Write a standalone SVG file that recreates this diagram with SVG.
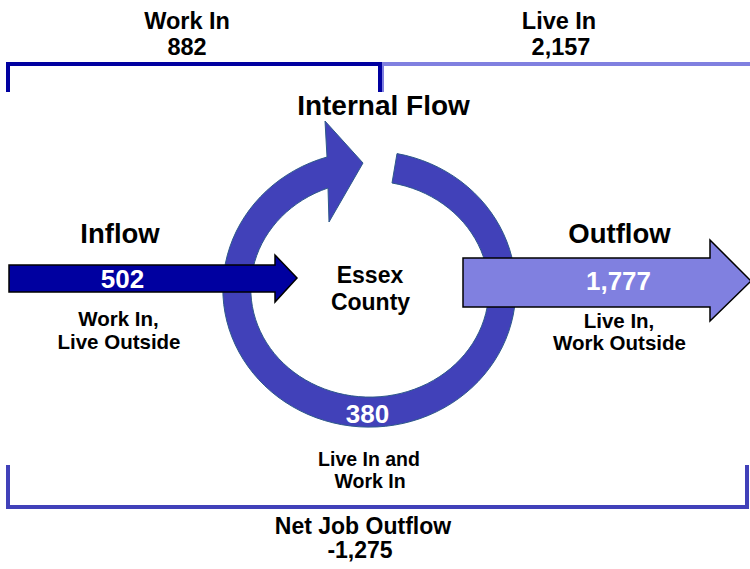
<svg xmlns="http://www.w3.org/2000/svg" width="750" height="569" viewBox="0 0 750 569">
<style>
text{font-family:"Liberation Sans",Arial,sans-serif;font-weight:bold;text-anchor:middle;fill:#000}
.w{fill:#fff}
.h{font-size:27.5px}
.m{font-size:23.5px}
.s{font-size:20.5px}
.n{font-size:26px}
.br{fill:none;stroke-width:4}
.arr{stroke:#000;stroke-width:1.5;stroke-linejoin:miter}
</style>
<rect width="750" height="569" fill="#fff"/>
<g id="connectors">
<path class="br" stroke="#8080E0" d="M382 92 V64 H752"/>
<path class="br" stroke="#0000A0" d="M8 92 V64 H380 V92"/>
<path class="br" stroke="#4141B9" d="M8 465 V507 H747 V465"/>
</g>
<g id="essex-county">
<path d="M397 153.6 A146.5 138 0 1 1 327 157 L325 121 L363 163 L329 222 L328 188 A119 108 0 1 0 392 183 Z" fill="#4141B9" stroke="#2E5A8A" stroke-width="1"/>
<text x="370" y="283" style="font-size:23px">Essex</text>
<text x="370.5" y="310" style="font-size:23px">County</text>
<text class="n w" x="367.5" y="423">380</text>
</g>
<g id="internal-flow">
<text x="383.5" y="115" style="font-size:28px">Internal Flow</text>
<text x="369" y="466" style="font-size:19.5px">Live In and</text>
<text x="370" y="488" style="font-size:19.5px">Work In</text>
</g>
<g id="inflow">
<path class="arr" fill="#0000A0" d="M9 265 H275 V255 L297 278 L275 302 V292 H9 Z"/>
<text class="h" x="120" y="243">Inflow</text>
<text class="n w" x="122.5" y="288">502</text>
<text class="s" x="118.5" y="326">Work In,</text>
<text class="s" x="119" y="349">Live Outside</text>
</g>
<g id="outflow">
<path class="arr" fill="#8080E0" d="M463 258 H710 V240 L751 281 L710 321 V307 H463 Z"/>
<text class="h" x="619.5" y="243">Outflow</text>
<text class="n w" x="618.5" y="290">1,777</text>
<text class="s" x="619" y="328">Live In,</text>
<text class="s" x="619.5" y="350">Work Outside</text>
</g>
<g id="work-in">
<text class="m" x="187" y="29">Work In</text>
<text class="m" x="187" y="55">882</text>
</g>
<g id="live-in">
<text class="m" x="559" y="29">Live In</text>
<text class="m" x="561" y="55">2,157</text>
</g>
<g id="net-job-outflow">
<text x="363" y="534" style="font-size:23px">Net Job Outflow</text>
<text x="360" y="558" style="font-size:23px">-1,275</text>
</g>
</svg>
